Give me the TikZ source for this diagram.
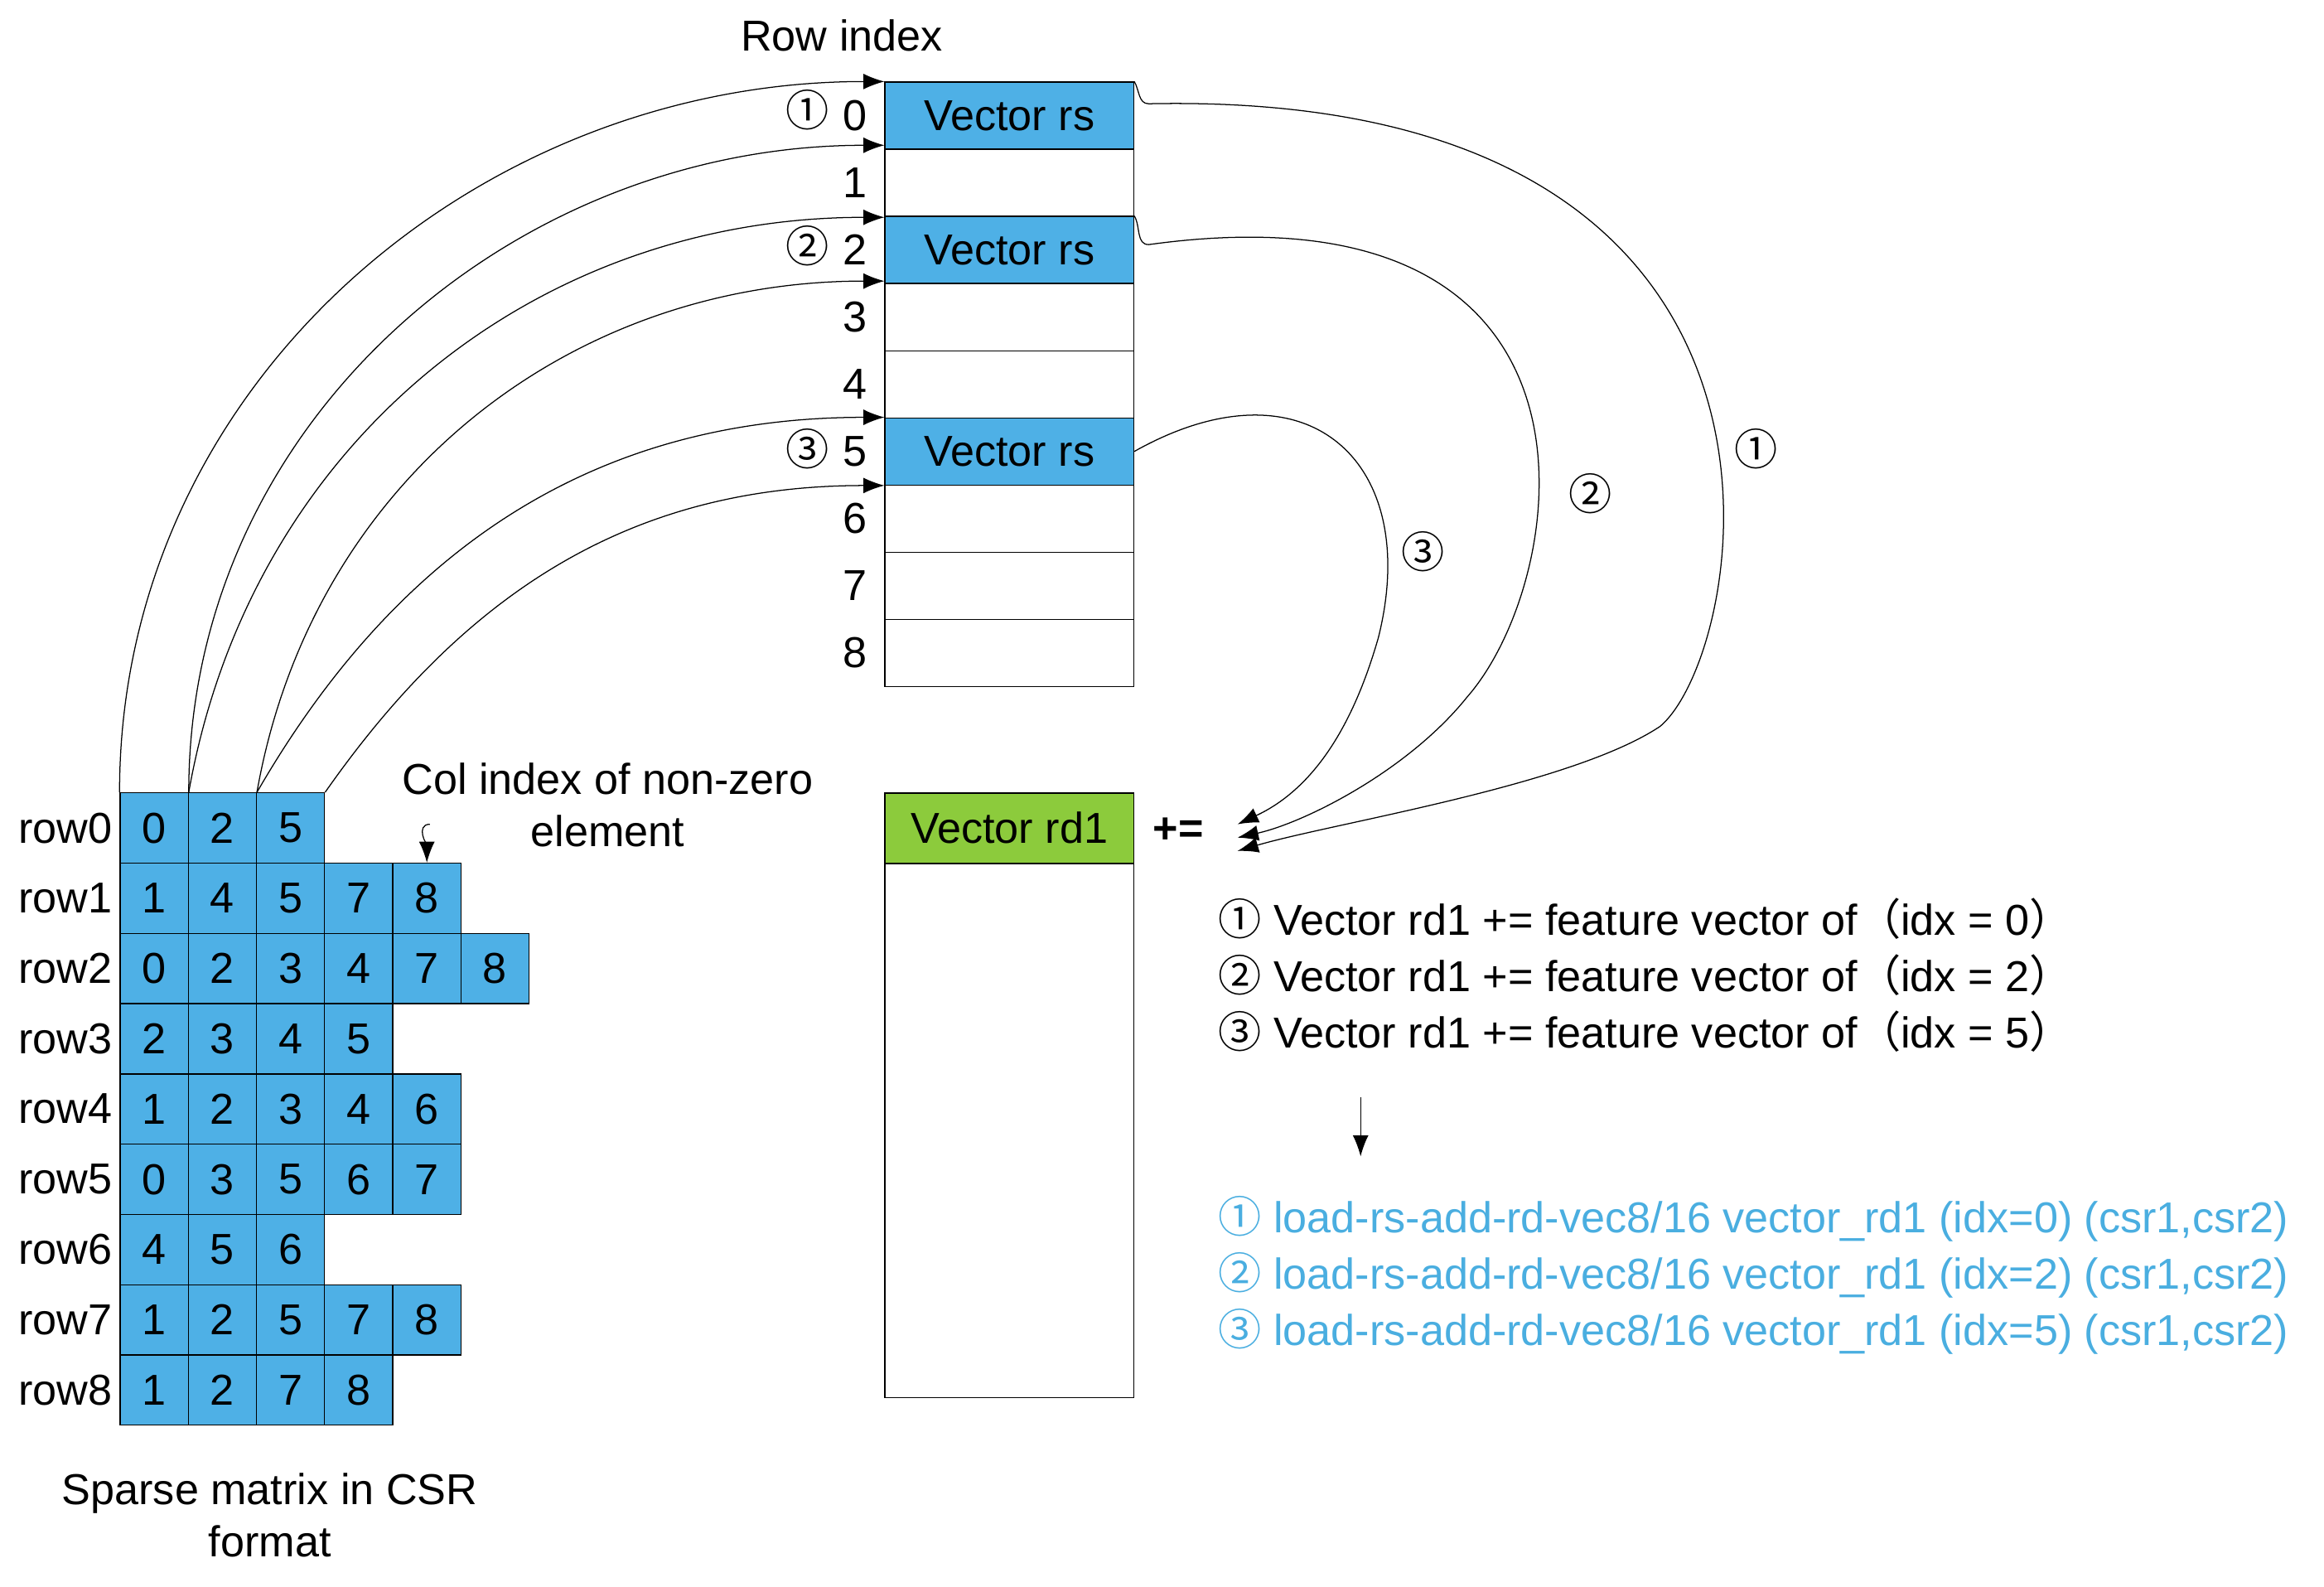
\documentclass[tikz,border=0pt]{standalone}
\usepackage{fontspec}
\setmainfont{Liberation Sans}
\newfontfamily\cjkfont{Noto Sans CJK SC}
\usetikzlibrary{positioning,calc,arrows.meta}
\definecolor{cellblue}{HTML}{4EB0E6}
\definecolor{rdgreen}{HTML}{8CCB3C}
\definecolor{txtblue}{HTML}{4AAEE0}
\newcommand{\cn}[1]{{\cjkfont #1}}
\tikzset{
  cell/.style={draw,fill=cellblue,minimum width=0.92cm,minimum height=0.948cm,inner sep=0pt},
  slot/.style={draw,minimum width=3.36cm,minimum height=0.906cm,inner sep=0pt},
  lbl/.style={inner sep=1pt},
  arr/.style={-{Latex[length=8pt,width=6pt]}}
}
\begin{document}
\begin{tikzpicture}[x=0.02cm,y=-0.02cm,font=\fontsize{16.6}{20}\selectfont]
\useasboundingbox (0,0) rectangle (1568,1070);

\node[lbl] (title) at (568,24) {Row index};

% row index column
\foreach \i in {0,...,8} {
  \node[slot] (r\i) at (681,{78+45.3*\i}) {};
  \node[lbl] (n\i) at (577,{78+45.3*\i}) {\i};
}
\foreach \i in {0,2,5} {
  \node[slot,fill=cellblue] at (r\i) {Vector rs};
}
\node[lbl] (c0) at (545,74) {\cn{①}};
\node[lbl] (c2) at (545,166) {\cn{②}};
\node[lbl] (c5) at (545,303) {\cn{③}};

% sparse matrix
\foreach \r/\vals in {0/{0,2,5},1/{1,4,5,7,8},2/{0,2,3,4,7,8},3/{2,3,4,5},
  4/{1,2,3,4,6},5/{0,3,5,6,7},6/{4,5,6},7/{1,2,5,7,8},8/{1,2,7,8}} {
  \node[lbl] (row\r) at (44,{558.5+47.4*\r}) {row\r};
  \foreach \v [count=\c from 0] in \vals {
    \node[cell] (m-\r-\c) at ({104+46*\c},{558.5+47.4*\r}) {\v};
  }
}
\node[lbl,align=center] (colidx) at (410,543) {Col index of non-zero\\element};
\node[lbl,align=center] (csr) at (182,1022) {Sparse matrix in CSR\\format};
\draw[arr] (290,556) to[out=180,in=90] (m-1-4.north);

% row pointer arrows
\draw[arr] (m-0-0.north west) to[out=90,in=180] (r0.north west);
\draw[arr] (m-0-0.north east) to[out=90,in=180] ($(r0.south west)+(0,-3)$);
\draw[arr] (m-0-0.north east) to[out=80,in=180] ($(r2.north west)+(0,1)$);
\draw[arr] (m-0-1.north east) to[out=80,in=180] ($(r2.south west)+(0,-2)$);
\draw[arr] (m-0-1.north east) to[out=60,in=180] (r5.north west);
\draw[arr] (m-0-2.north east) to[out=55,in=180] (r5.south west);

% result vector
\node[slot,fill=rdgreen,minimum height=0.94cm] (rdh) at (681,558.5) {Vector rd1};
\node[slot,minimum height=7.2cm,anchor=north] (rdb) at (rdh.south) {};
\node[lbl] (pe) at (795,560) {\textbf{+=}};
\coordinate (t3) at (835,556);
\coordinate (t2) at (835,565);
\coordinate (t1) at (835,574);
\draw[arr] (r0.north east) to[out=-60,in=180] (775,70) .. controls (1250,60) and (1180,440) .. (1120,490) .. controls (1060,530) and (900,555) .. (t1);
\draw[arr] (r2.north east) to[out=-60,in=180] (775,165) .. controls (1100,120) and (1060,390) .. (990,470) .. controls (950,520) and (880,555) .. (t2);
\draw[arr] (r5.east) .. controls (880,240) and (960,310) .. (930,430) .. controls (910,500) and (880,535) .. (t3);
\node[lbl] (l1) at (1185,303) {\cn{①}};
\node[lbl] (l2) at (1073,333) {\cn{②}};
\node[lbl] (l3) at (960,372) {\cn{③}};

% explanation
\node[lbl,anchor=west] (e1) at (820,620) {\cn{①} Vector rd1 += feature vector of\cn{（}idx = 0\cn{）}};
\node[lbl,anchor=west] (e2) at (820,658) {\cn{②} Vector rd1 += feature vector of\cn{（}idx = 2\cn{）}};
\node[lbl,anchor=west] (e3) at (820,696) {\cn{③} Vector rd1 += feature vector of\cn{（}idx = 5\cn{）}};
\coordinate (a1) at (918,740);
\coordinate (a2) at (918,780);
\draw[arr] (a1) -- (a2);
\foreach \k/\c/\y in {0/①/822,2/②/860,5/③/898} {
  \node[lbl,anchor=west,text=txtblue] (b\k) at (820,\y) {\cn{\c} load-rs-add-rd-vec8/16 vector\_rd1 (idx=\k) (csr1,csr2)};
}
\end{tikzpicture}
\end{document}
